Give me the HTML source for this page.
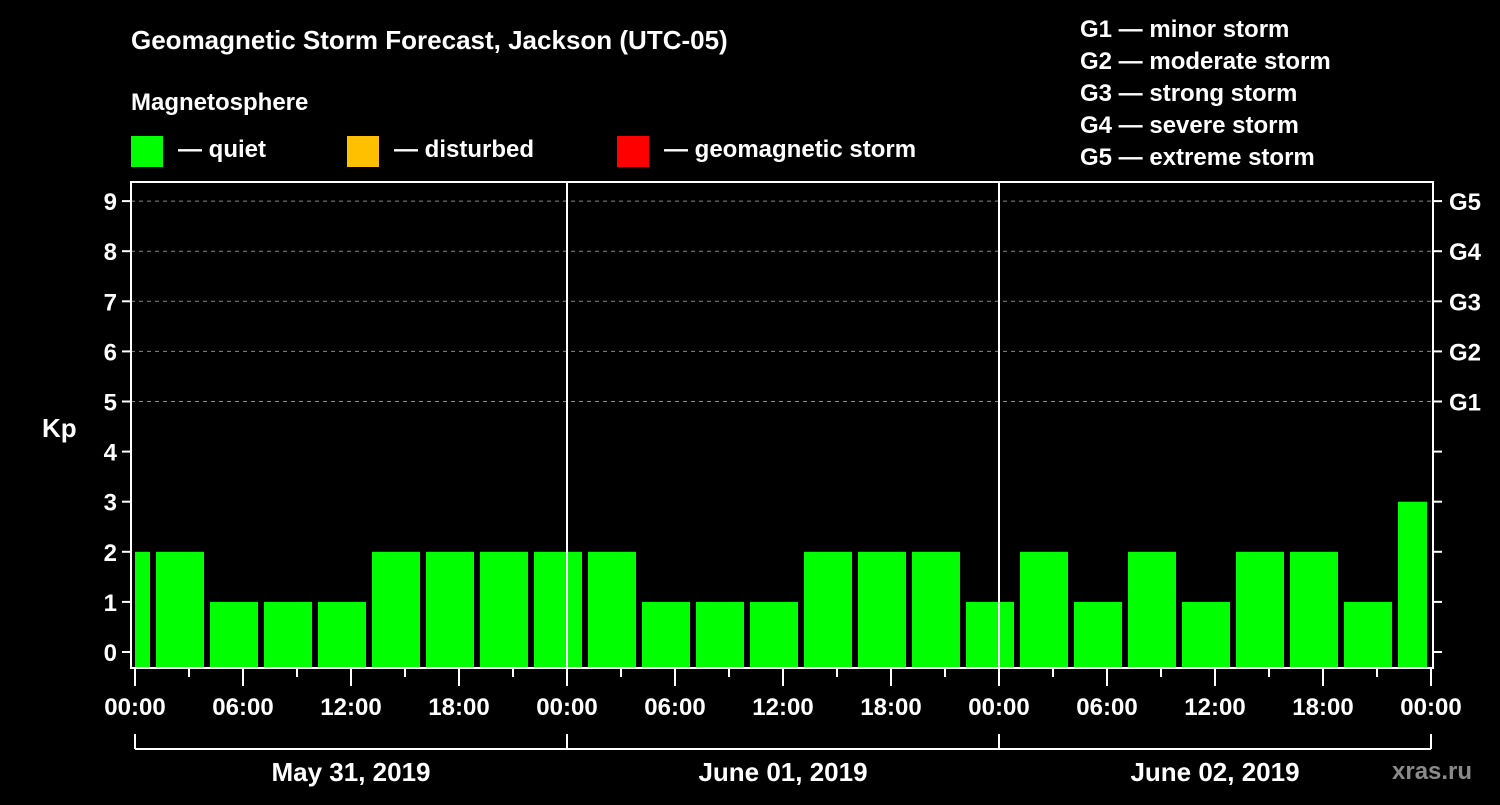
<!DOCTYPE html>
<html><head><meta charset="utf-8"><style>
body{margin:0;background:#000;width:1500px;height:800px;overflow:hidden}
svg text{font-family:"Liberation Sans",Arial,sans-serif;font-weight:bold;fill:#fff}
</style></head><body>
<svg id="chart" width="1500" height="800" xmlns="http://www.w3.org/2000/svg">
<rect width="1500" height="800" fill="#000"/>
<text x="131" y="49" font-size="26">Geomagnetic Storm Forecast, Jackson (UTC-05)</text>
<text x="131" y="110" font-size="24">Magnetosphere</text>
<g><rect x="131" y="136" width="32" height="31" fill="#00ff00"/><text x="178" y="157" font-size="24">— quiet</text></g>
<g><rect x="347" y="136" width="32" height="31" fill="#ffc000"/><text x="394" y="157" font-size="24">— disturbed</text></g>
<g><rect x="617" y="136" width="32" height="31" fill="#ff0000"/><text x="664" y="157" font-size="24">— geomagnetic storm</text></g>
<g font-size="24">
<text x="1080" y="37">G1 — minor storm</text>
<text x="1080" y="69">G2 — moderate storm</text>
<text x="1080" y="101">G3 — strong storm</text>
<text x="1080" y="133">G4 — severe storm</text>
<text x="1080" y="165">G5 — extreme storm</text>
</g>
<text x="42" y="437" font-size="26">Kp</text>
<g id="grid"></g><g id="bars"></g><g id="axes"></g>
<text x="1392" y="779" font-size="24" fill="#888" style="fill:#8a8a8a">xras.ru</text>
</svg>
<script>
const kpValues=[2,2,1,1,1,2,2,2,2,2,1,1,1,2,2,2,1,2,1,2,1,2,2,1,3];
const kpTicks=[0,1,2,3,4,5,6,7,8,9];
const gLabels=["G1","G2","G3","G4","G5"];
const gLevels=[5,6,7,8,9];
const timeLabels=["00:00","06:00","12:00","18:00"];
const dayLabels=["May 31, 2019","June 01, 2019","June 02, 2019"];
const firstBarStartHour=-2;
const NS="http://www.w3.org/2000/svg";
const X0=135,PXH=18,L=131,R=1433,T=182,B=668;
const x=h=>X0+h*PXH;
const y=v=>652-v*50.1;
function mk(tag,attrs,parent){const e=document.createElementNS(NS,tag);for(const k in attrs)e.setAttribute(k,attrs[k]);document.getElementById(parent).appendChild(e);return e;}
// grid
gLevels.forEach(v=>{
const l=mk('line',{x1:L,x2:R,y1:y(v),y2:y(v),stroke:'#888','stroke-dasharray':'4,4','stroke-width':1},'grid');


});
// bars
kpValues.forEach((v,i)=>{
const h0=firstBarStartHour+3*i;
let x1=x(h0)+3,x2=x(h0+3)-3;
x1=Math.max(x1,X0);x2=Math.min(x2,1427);
const r=mk('rect',{x:x1,y:y(v),width:x2-x1,height:B-y(v),fill:v>=5?'#ff0000':(v>=4?'#ffc000':'#00ff00')},'bars');


});
// frame
const f=mk('rect',{x:L,y:T,width:R-L,height:B-T,fill:'none',stroke:'#fff','stroke-width':2},'axes');


[1,2].forEach(d=>{
const l=mk('line',{x1:x(24*d),x2:x(24*d),y1:T,y2:B,stroke:'#fff','stroke-width':2},'axes');


});
kpTicks.forEach(v=>{
mk('line',{x1:L-9,x2:L,y1:y(v),y2:y(v),stroke:'#fff','stroke-width':2},'axes');
mk('line',{x1:R,x2:R+9,y1:y(v),y2:y(v),stroke:'#fff','stroke-width':2},'axes');
const t=mk('text',{x:L-14,y:y(v)+9,'font-size':24,'text-anchor':'end'},'axes');
t.textContent=v;


});
gLabels.forEach((g,i)=>{
const t=mk('text',{x:1449,y:y(gLevels[i])+9,'font-size':24},'axes');
t.textContent=g;


});
for(let h=0;h<=72;h+=3){
const major=h%6===0;
mk('line',{x1:x(h),x2:x(h),y1:B,y2:B+(major?18:9),stroke:'#fff','stroke-width':2},'axes');
if(major){
const lab=h===72?timeLabels[0]:timeLabels[(h%24)/6];
const t=mk('text',{x:x(h),y:715,'font-size':24,'text-anchor':'middle'},'axes');
t.textContent=lab;


}
}
mk('line',{x1:x(0),x2:x(72),y1:749,y2:749,stroke:'#fff','stroke-width':2},'axes');
for(let d=0;d<=3;d++)mk('line',{x1:x(24*d),x2:x(24*d),y1:734,y2:749,stroke:'#fff','stroke-width':2},'axes');
dayLabels.forEach((s,d)=>{
const t=mk('text',{x:x(24*d+12),y:781,'font-size':26,'text-anchor':'middle'},'axes');
t.textContent=s;


});
</script>
</body></html>
